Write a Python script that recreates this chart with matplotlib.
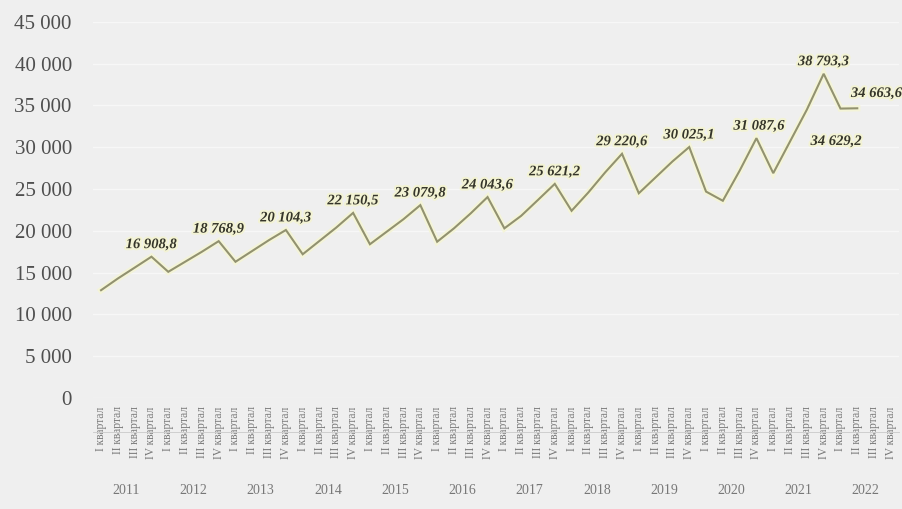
import matplotlib
matplotlib.use("Agg")
import matplotlib.pyplot as plt
import matplotlib.patheffects as pe
from matplotlib.lines import Line2D
import numpy as np

# quarterly values 2011-2022 (III and IV 2022 have no data yet)
years = ["2011", "2012", "2013", "2014", "2015", "2016",
         "2017", "2018", "2019", "2020", "2021", "2022"]
quarters = ["I квартал", "II квартал", "III квартал", "IV квартал"]
values = [
    12900, 14300, 15600, 16908.8,
    15100, 16300, 17500, 18768.9,
    16300, 17600, 18900, 20104.3,
    17200, 18800, 20400, 22150.5,
    18400, 19900, 21400, 23079.8,
    18700, 20300, 22100, 24043.6,
    20300, 21800, 23700, 25621.2,
    22400, 24600, 27000, 29220.6,
    24500, 26400, 28300, 30025.1,
    24700, 23600, 27200, 31087.6,
    26900, 30700, 34500, 38793.3,
    34629.2, 34663.6, np.nan, np.nan,
]
# points that carry a value label: index -> (dx, dy) offset in points
labelled = {3: (0, 4), 7: (0, 4), 11: (0, 4), 15: (0, 4), 19: (0, 4),
            23: (0, 4), 27: (0, 4), 31: (0, 4), 35: (0, 4), 39: (2, 4),
            43: (0, 4), 44: (-3, -19), 45: (14, 6)}

bg = "#efefef"
serif = ["Liberation Serif", "DejaVu Serif"]

fig = plt.figure(figsize=(9.02, 5.09), dpi=100, facecolor=bg)
ax = fig.add_axes([0.1027, 0.218, 0.8943, 0.739], facecolor=bg)

x = np.arange(len(values))
glow = [pe.withStroke(linewidth=4.5, foreground="#f4f4d8")]
ax.plot(x, values, color="#929270", lw=1.5, path_effects=glow,
        solid_joinstyle="miter", zorder=3)

def fmt(v):
    whole = int(v)
    frac = int(round((v - whole) * 10))
    return f"{whole:,}".replace(",", " ") + f",{frac}"

for i, (dx, dy) in labelled.items():
    va = "bottom" if dy >= 0 else "top"
    ax.annotate(fmt(values[i]), (x[i], values[i]), xytext=(dx, dy),
                textcoords="offset points", ha="center", va=va,
                family=serif, fontsize=10.5, fontweight="bold", style="italic",
                color="#35352a", zorder=4,
                path_effects=[pe.withStroke(linewidth=3, foreground="#f3f3d4")])

ax.set_xlim(-0.5, len(values) - 0.5)
ax.set_ylim(0, 45000)
ax.set_yticks(np.arange(0, 45001, 5000))
ax.set_yticklabels([f"{v:,}".replace(",", " ") for v in range(0, 45001, 5000)],
                   family=serif, fontsize=15, color="#4f4f4f")
ax.set_xticks(x)
ax.set_xticklabels(quarters * len(years), rotation=90, family=serif,
                   fontsize=8.3, color="#777777")
ax.tick_params(axis="y", length=0, pad=15)
ax.tick_params(axis="x", length=0, pad=6)

ax.grid(axis="y", color="#f7f7f7", lw=1.0)
ax.set_axisbelow(True)
for s in ax.spines.values():
    s.set_visible(False)

# year captions under each group of four quarters
trans = ax.get_xaxis_transform()
for k, yr in enumerate(years):
    ax.text(4 * k + 1.5, -0.245, yr, transform=trans, ha="center", va="center",
            family=serif, fontsize=10, color="#777777")

ax.add_line(Line2D([0, 1], [-0.09, -0.09], transform=ax.transAxes,
                   color="#cfcfcf", lw=0.7, clip_on=False))

fig.savefig("out.png", dpi=100, facecolor=bg)
